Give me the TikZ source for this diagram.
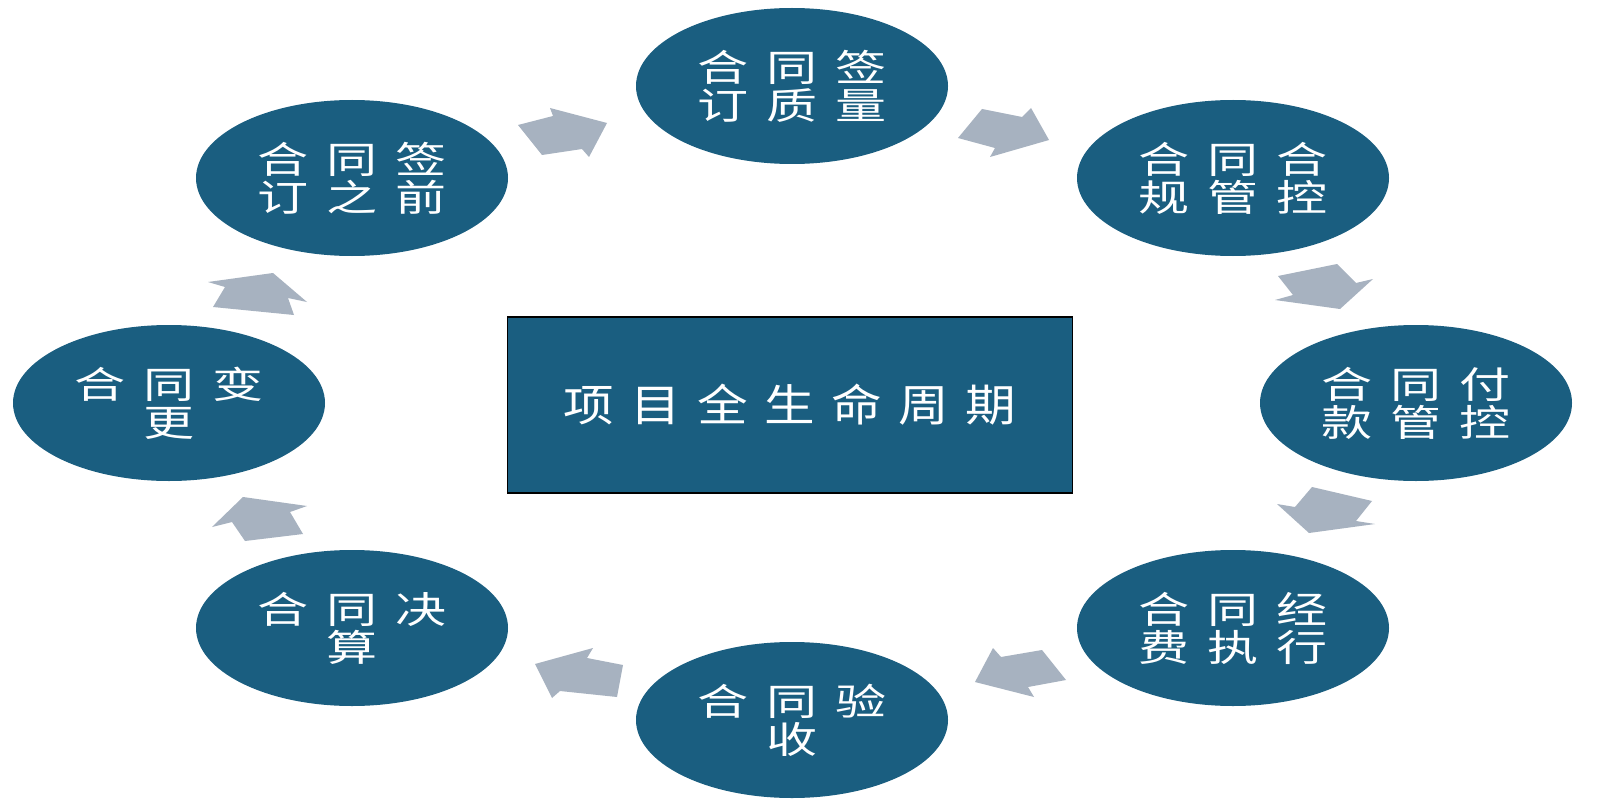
\documentclass[tikz,border=0pt]{standalone}
\usepackage{fontspec}
\usepackage{graphicx}
\usetikzlibrary{shapes.geometric}
\newfontfamily\cjk{Noto Sans CJK SC}
\definecolor{ellblue}{RGB}{26,94,128}
\definecolor{arrgray}{RGB}{167,178,192}
\newcommand\hstretch{1.38}
\newcommand\pitch{69pt}
\newcommand\spacedtxt[1]{\spacedstep#1\relax}
\def\spacedstep#1{\ifx#1\relax\else\makebox[\pitch]{\scalebox{\hstretch}[1]{#1}}\expandafter\spacedstep\fi}
\tikzset{
  ell/.style={ellipse, fill=ellblue, minimum width=312pt, minimum height=156pt,
    inner sep=0pt, text=white, align=center,
    font=\cjk\fontsize{37}{38}\selectfont},
  centerbox/.style={rectangle, fill=ellblue, draw=black, line width=1.5pt,
    minimum width=565pt, minimum height=176pt, text=white,
    font=\cjk\fontsize{44}{48}\selectfont\renewcommand\hstretch{1.15}\renewcommand\pitch{67pt}},
  blockarrow/.style={fill=arrgray, draw=none}
}
\begin{document}
\begin{tikzpicture}[x=1pt,y=-1pt]
\useasboundingbox (0,0) rectangle (1600,805);
\fill[white] (0,0) rectangle (1600,805);
% ellipses
\node[ell] (qdzq) at (352,178) {\spacedtxt{合同签}\\\spacedtxt{订之前}};
\node[ell] (qdzl) at (792,86) {\spacedtxt{合同签}\\\spacedtxt{订质量}};
\node[ell] (hggk) at (1233,178) {\spacedtxt{合同合}\\\spacedtxt{规管控}};
\node[ell] (fkgk) at (1416,403) {\spacedtxt{合同付}\\\spacedtxt{款管控}};
\node[ell] (jfzx) at (1233,628) {\spacedtxt{合同经}\\\spacedtxt{费执行}};
\node[ell] (ys) at (792,720) {\spacedtxt{合同验}\\\spacedtxt{收}};
\node[ell] (js) at (352,628) {\spacedtxt{合同决}\\\spacedtxt{算}};
\node[ell] (bg) at (169,403) {\spacedtxt{合同变}\\\spacedtxt{更}};
% center box
\node[centerbox] (center) at (790,405) {\spacedtxt{项目全生命周期}};
% block arrows
\fill[blockarrow] (518,125) -- (553,116) -- (550,108) -- (607,123) -- (589,157) -- (582,149) -- (542,155) -- cycle;
\fill[blockarrow] (982,109) -- (1022,117) -- (1031,108) -- (1049,140) -- (990,157) -- (995,148) -- (958,138) -- cycle;
\fill[blockarrow] (1278,276) -- (1337,264) -- (1356,283) -- (1373,279) -- (1340,309) -- (1275,300) -- (1293,295) -- cycle;
\fill[blockarrow] (1312,487) -- (1372,501) -- (1356,521) -- (1375,524) -- (1309,533) -- (1277,504) -- (1295,507) -- cycle;
\fill[blockarrow] (1042,650) -- (1066,680) -- (1028,687) -- (1034,697) -- (975,682) -- (993,648) -- (1001,657) -- cycle;
\fill[blockarrow] (593,648) -- (587,658) -- (623,665) -- (617,697) -- (560,691) -- (552,698) -- (535,664) -- cycle;
\fill[blockarrow] (243,497) -- (307,506) -- (290,512) -- (303,534) -- (245,541) -- (232,522) -- (212,527) -- cycle;
\fill[blockarrow] (208,282) -- (273,273) -- (307,302) -- (288,298) -- (294,315) -- (213,307) -- (225,287) -- cycle;
\end{tikzpicture}
\end{document}
